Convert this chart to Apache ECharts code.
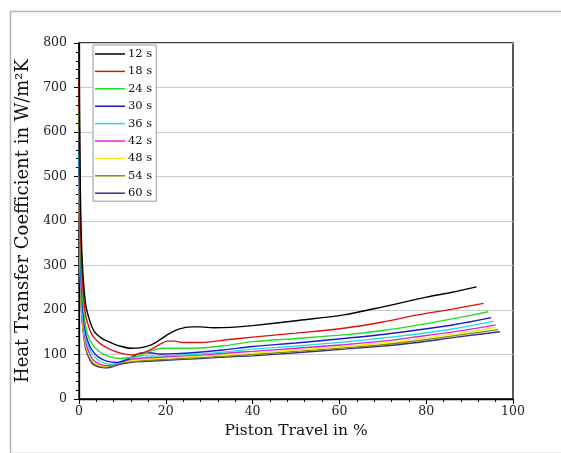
<!DOCTYPE html>
<html>
<head>
<meta charset="utf-8">
<script src="https://cdn.jsdelivr.net/npm/echarts@6/dist/echarts.min.js"></script>
<style>html,body{margin:0;padding:0;background:#fff}#c{width:561px;height:453px}</style>
</head>
<body>
<div id="c"></div>
<script>
const seriesNames = ['12 s','18 s','24 s','30 s','36 s','42 s','48 s','54 s','60 s'];
const seriesColors = ['#000000','#e01010','#22dd22','#1a1ad0','#22e0e0','#e020e0','#f0f020','#8a8a00','#303090'];

const x12 = [0,0.3,0.7,1.5,2.5,3.5,5,7,9,12,14,16.5,18.5,20.5,23,26,28,31,35,40,50,61,70,80,86,91.6];
const y12 = [800,480,320,215,175,152,138,128,120,114,115,121,132,145,157,162,162,160,161,165,176,189,207,229,240,252];

const x18 = [0,0.3,0.7,1.5,2.5,3.3,4.8,6.5,8,10,12.4,14.5,16.5,18.5,20.5,22,24,28,34,40,50,61,70,78,86,93.2];
const y18 = [720,420,280,190,155,140,125,115,108,102,99,103,111,122,130,130,127,127,133,139,148,159,173,189,202,215];

const x24 = [0,0.3,0.7,1.5,2.5,3.3,4.5,5.6,7.5,9.4,11,13.3,15,17.1,19,21,26,33,40,50,61,70,78,86,94.3];
const y24 = [650,380,250,165,132,120,108,101,94,91,92,95,102,110,114,114,114,119,129,136,144,154,166,180,196];

const x30 = [0,0.3,0.7,1.5,2.5,3.3,4.5,6.4,8.7,11,12.5,14,16.4,18.7,22,26,33,40,50,61,70,78,87,95];
const y30 = [600,350,230,150,118,106,94,85,82,88,96,103,104,101,102,104,110,118,126,136,145,155,168,183];

const x36 = [0,0.3,0.7,1.5,2.5,3.3,4.5,6,7.5,9,11,13,15,18,22,28,35,40,50,61,70,78,87,95.5];
const y36 = [550,320,210,140,110,98,87,80,78,81,90,96,97,97,98,101,107,112,119,128,137,146,159,175];

const x42 = [0,0.3,0.7,1.5,2.5,3.5,5,6.5,8,10,12,15,20,28,35,40,50,61,70,78,87,96];
const y42 = [520,300,200,130,100,86,78,75,77,84,89,92,95,99,104,107,114,122,130,140,152,166];

const x48 = [0,0.3,0.7,1.5,2.5,3.5,5,6,7.5,9,11,14,20,28,35,40,50,61,70,78,87,96.2];
const y48 = [500,290,190,125,96,82,75,74,76,81,85,88,92,96,100,103,110,118,126,135,147,161];

const x54 = [0,0.3,0.7,1.5,2.5,3.5,5,6,7.5,9,11,14,20,28,35,40,50,61,70,78,87,96.6];
const y54 = [480,280,185,120,92,79,73,72,74,79,83,86,89,93,97,100,107,115,122,131,143,156];

const x60 = [0,0.3,0.7,1.5,2.5,3.5,5,6,7.5,9,11,14,20,28,35,40,50,61,70,78,87,97];
const y60 = [450,270,180,115,88,76,71,70,72,77,81,84,87,91,95,97,104,112,119,127,139,151];

const xTicks = [0,20,40,60,80,100];
const yTicks = [0,100,200,300,400,500,600,700,800];

const allX = [x12,x18,x24,x30,x36,x42,x48,x54,x60];
const allY = [y12,y18,y24,y30,y36,y42,y48,y54,y60];

const FONT = 'DejaVu Serif';
const chart = echarts.init(document.getElementById('c'), null, {renderer:'canvas'});

const series = seriesNames.map((n,i)=>({
  name:n, type:'line', symbol:'none', smooth:0.3, clip:true,
  lineStyle:{color:seriesColors[i], width:1.4}, itemStyle:{color:seriesColors[i]},
  data: allX[i].map((x,k)=>[x, allY[i][k]]),
  z: 10 - i
}));

chart.setOption({
  backgroundColor:'#fff',
  animation:false,
  graphic:[{type:'rect', left:8, top:9, shape:{x:0,y:0,width:560,height:442}, style:{fill:'none', stroke:'#b4b4b4', lineWidth:1.5}, z:-1}],
  grid:{left:79, right:48, top:43, bottom:54, show:true, borderColor:'#000', borderWidth:1.3, backgroundColor:'transparent'},
  legend:{
    orient:'vertical', left:93, top:45, padding:[3,4,2,2],
    itemWidth:30, itemHeight:1.5, itemGap:5.4, icon:'rect',
    borderColor:'#999', borderWidth:1, backgroundColor:'#fff',
    textStyle:{fontFamily:FONT, fontSize:11.5, color:'#111', lineHeight:12, padding:[0,0,0,-2]},
    data: seriesNames
  },
  xAxis:{
    type:'value', min:0, max:100, interval:20,
    name:'Piston Travel in %', nameLocation:'middle', nameGap:21,
    nameTextStyle:{fontFamily:FONT, fontSize:15.5, color:'#111', verticalAlign:'top'},
    axisLine:{lineStyle:{color:'#000', width:1.3}},
    axisTick:{show:true, length:5, lineStyle:{color:'#000'}},
    minorTick:{show:true, splitNumber:5, length:3, lineStyle:{color:'#000'}},
    splitLine:{show:false},
    axisLabel:{fontFamily:FONT, fontSize:12.5, color:'#222', margin:6, customValues: xTicks}
  },
  yAxis:{
    type:'value', min:0, max:800, interval:100,
    name:'Heat Transfer Coefficient in W/m²K', nameLocation:'middle', nameGap:55, nameRotate:90,
    nameTextStyle:{fontFamily:FONT, fontSize:18, color:'#111', verticalAlign:'middle'},
    axisLine:{show:true, lineStyle:{color:'#000', width:1.3}},
    axisTick:{show:true, length:5, lineStyle:{color:'#000'}},
    minorTick:{show:true, splitNumber:5, length:3, lineStyle:{color:'#000'}},
    splitLine:{show:true, lineStyle:{color:'#cccccc', width:1}},
    axisLabel:{fontFamily:FONT, fontSize:12.5, color:'#222', margin:12, customValues: yTicks}
  },
  series: series
});
</script>
</body>
</html>
